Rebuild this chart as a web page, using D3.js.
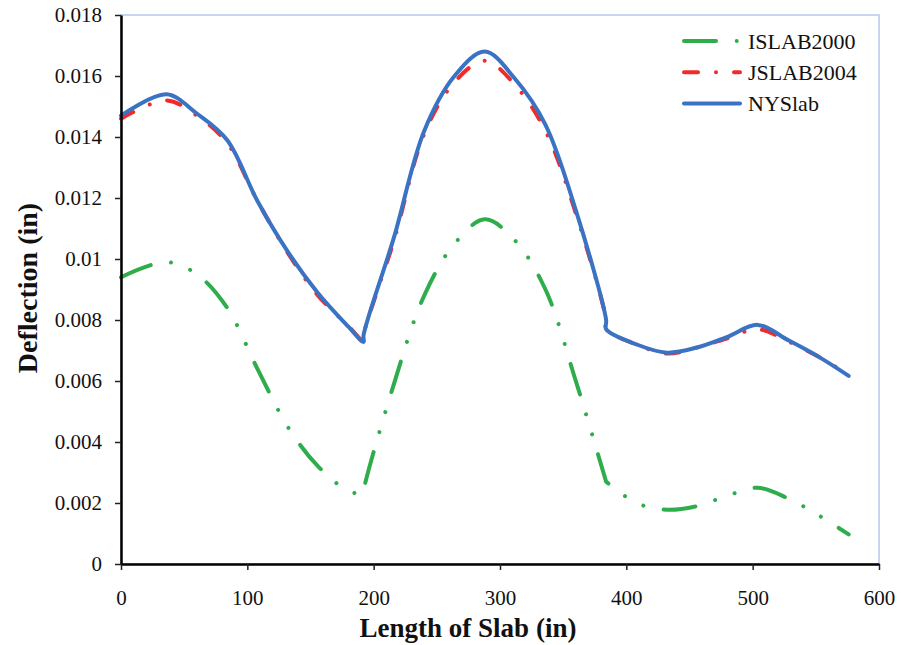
<!DOCTYPE html>
<html>
<head>
<meta charset="utf-8">
<script src="https://cdn.jsdelivr.net/npm/d3@7"></script>
<style>
  body { margin: 0; background: #fff; }
  text { font-family: "Liberation Serif", "Times New Roman", serif; fill: #111; }
</style>
</head>
<body>
<div id="chart"></div>
<script>
// donnees (longueur en in, deflexion en in)
var xPos = [0, 36, 60, 84, 108, 132, 156, 180, 192, 192, 216, 240, 264, 288, 312, 336, 360, 384, 384, 408, 432, 456, 480, 504, 528, 552, 576];
var islab2000 = [0.0094, 0.0099, 0.0095, 0.0084, 0.0064, 0.0045, 0.0032, 0.0024, 0.0023, 0.0024, 0.0059, 0.0088, 0.0105, 0.0113, 0.0106, 0.0090, 0.0060, 0.0027, 0.0027, 0.0020, 0.00178, 0.0019, 0.00224, 0.0025, 0.00215, 0.0016, 0.00097];
var jslab2004 = [0.0146, 0.0152, 0.0147, 0.0138, 0.0119, 0.0102, 0.0088, 0.0078, 0.0073, 0.0075, 0.0106, 0.0141, 0.0158, 0.0165, 0.0157, 0.0142, 0.0115, 0.0080, 0.0077, 0.0072, 0.0069, 0.0071, 0.0074, 0.0077, 0.0073, 0.0068, 0.0062];
var nyslab = [0.0147, 0.0154, 0.01477, 0.0139, 0.0119, 0.01024, 0.00888, 0.00778, 0.00728, 0.0075, 0.0107, 0.0142, 0.0160, 0.0168, 0.0159, 0.0144, 0.0116, 0.0080, 0.0077, 0.0072, 0.00693, 0.0071, 0.00745, 0.00784, 0.00734, 0.0068, 0.00617];

var seriesNames = ["ISLAB2000", "JSLAB2004", "NYSlab"];
var xTicks = [0, 100, 200, 300, 400, 500, 600];
var yTicks = [0, 0.002, 0.004, 0.006, 0.008, 0.01, 0.012, 0.014, 0.016, 0.018];
var yTickLabels = ["0", "0.002", "0.004", "0.006", "0.008", "0.01", "0.012", "0.014", "0.016", "0.018"];

// dimensions
var W = 901, H = 645;
var margin = {top: 15, right: 22, bottom: 81, left: 121},
    width = W - margin.left - margin.right,
    height = H - margin.top - margin.bottom;

var svg = d3.select("#chart").append("svg")
    .attr("width", W)
    .attr("height", H);

svg.append("rect").attr("width", W).attr("height", H).attr("fill", "#fff");

var g = svg.append("g")
    .attr("transform", "translate(" + margin.left + "," + margin.top + ")");

var x = d3.scaleLinear().domain([0, 600]).range([0, width]);
var y = d3.scaleLinear().domain([0, 0.018]).range([height, 0]);

// cadre bleu clair de la zone de trace
g.append("rect")
    .attr("x", 0).attr("y", 0)
    .attr("width", width).attr("height", height)
    .attr("fill", "none")
    .attr("stroke", "#c8d5ef")
    .attr("stroke-width", 2);

// courbes
var line = d3.line()
    .x(function (d) { return x(d[0]); })
    .y(function (d) { return y(d[1]); })
    .curve(d3.curveCatmullRom.alpha(0.5));

var styles = [
    {name: seriesNames[0], values: islab2000, color: "#2fac4b", dash: "32,20.7,0.01,20.7,0.01,20.7"},
    {name: seriesNames[1], values: jslab2004, color: "#f42a2a", dash: "14,18,0.01,18"},
    {name: seriesNames[2], values: nyslab, color: "#3a72c4", dash: null}
];

styles.forEach(function (s) {
    var pts = xPos.map(function (v, i) { return [v, s.values[i]]; });
    g.append("path")
        .datum(pts)
        .attr("d", line)
        .attr("fill", "none")
        .attr("stroke", s.color)
        .attr("stroke-width", 4)
        .attr("stroke-linecap", "round")
        .attr("stroke-linejoin", "round")
        .attr("stroke-dasharray", s.dash);
});

// axe Y
var yAxis = g.append("g")
    .call(d3.axisLeft(y).tickValues(yTicks).tickSize(6).tickSizeOuter(0)
        .tickFormat(function (d, i) { return yTickLabels[i]; }));
yAxis.select(".domain").attr("stroke", "#000").attr("stroke-width", 2.5);
yAxis.selectAll(".tick line").attr("stroke", "#222").attr("stroke-width", 1.5);
yAxis.selectAll(".tick text")
    .attr("x", -19)
    .style("font-family", "'Liberation Serif', serif")
    .style("font-size", "21px")
    .attr("fill", "#111");

// axe X
var xAxis = g.append("g")
    .attr("transform", "translate(0," + height + ")")
    .call(d3.axisBottom(x).tickValues(xTicks).tickSize(6).tickSizeOuter(0));
xAxis.select(".domain").attr("stroke", "#000").attr("stroke-width", 2.5);
xAxis.selectAll(".tick line").attr("stroke", "#222").attr("stroke-width", 1.5);
xAxis.selectAll(".tick text")
    .attr("y", 26)
    .style("font-family", "'Liberation Serif', serif")
    .style("font-size", "21px")
    .attr("fill", "#111");

// titres des axes
svg.append("text")
    .attr("x", 468)
    .attr("y", 637)
    .attr("text-anchor", "middle")
    .style("font-size", "27px")
    .style("font-weight", "bold")
    .text("Length of Slab (in)");

svg.append("text")
    .attr("transform", "translate(37,288) rotate(-90)")
    .attr("text-anchor", "middle")
    .style("font-size", "28px")
    .style("font-weight", "bold")
    .text("Deflection (in)");

// legende
var legend = svg.append("g").attr("transform", "translate(684,41)");
styles.forEach(function (s, i) {
    var row = legend.append("g").attr("transform", "translate(0," + (i * 31.3) + ")");
    row.append("line")
        .attr("x1", 0).attr("x2", 56)
        .attr("y1", 0).attr("y2", 0)
        .attr("stroke", s.color)
        .attr("stroke-width", 4)
        .attr("stroke-linecap", "round")
        .attr("stroke-dasharray", s.dash);
    row.append("text")
        .attr("x", 64)
        .attr("y", 7.5)
        .style("font-size", "22px")
        .text(s.name);
});
</script>
</body>
</html>
